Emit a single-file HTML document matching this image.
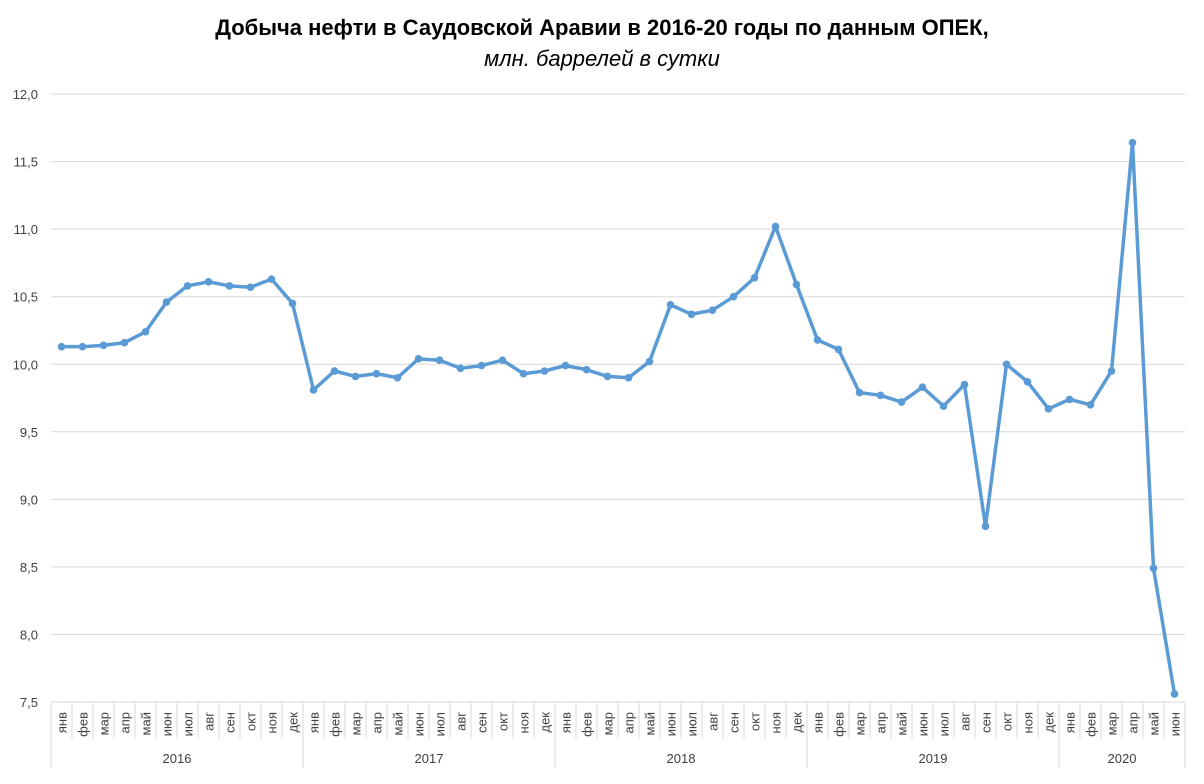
<!DOCTYPE html>
<html><head><meta charset="utf-8"><style>
body{margin:0;background:#fff;}
svg text{font-family:"Liberation Sans","DejaVu Sans",sans-serif;}
</style></head><body>
<svg width="1204" height="779" xmlns="http://www.w3.org/2000/svg">
<text x="602" y="35" text-anchor="middle" font-size="22" font-weight="bold" fill="#000">Добыча нефти в Саудовской Аравии в 2016-20 годы по данным ОПЕК,</text>
<text x="602" y="66" text-anchor="middle" font-size="22" font-style="italic" fill="#000">млн. баррелей в сутки</text>
<g id="grid" stroke="#d9d9d9" stroke-width="1"></g>
<g id="ylab" font-size="13" fill="#404040" text-anchor="end"></g>
<g id="xax" stroke="#d9d9d9" stroke-width="1"></g>
<g id="xlab" font-size="13" fill="#404040"></g>
<polyline id="line" fill="none" stroke="#5b9bd5" stroke-width="3.5" stroke-linejoin="round"/>
<g id="dots" fill="#5b9bd5"></g>
</svg>
<script>
const NS="http://www.w3.org/2000/svg";
function el(t,a,p,txt){const e=document.createElementNS(NS,t);for(const k in a)e.setAttribute(k,a[k]);if(txt!=null)e.textContent=txt;document.getElementById(p).appendChild(e);return e;}
const y0=702,ppu=135.1,x0=51,dx=21;
const Y=v=>y0-(v-7.5)*ppu;
for(let i=0;i<=9;i++){const v=7.5+i*0.5,y=Y(v);el('line',{x1:x0,x2:1185,y1:y,y2:y},'grid');el('text',{x:38,y:y+5},'ylab',v.toFixed(1).replace('.',','));}
const m=['янв','фев','мар','апр','май','июн','июл','авг','сен','окт','ноя','дек'];
for(let k=0;k<=54;k++){const x=x0+k*dx;el('line',{x1:x,x2:x,y1:y0,y2:(k%12==0||k==54)?768:739},'xax');}
for(let k=0;k<54;k++){const x=x0+k*dx+10.5;el('text',{x:0,y:0,transform:`translate(${x+5},${712}) rotate(-90)`,'text-anchor':'end'},'xlab',m[k%12]);}
const yrs=[2016,2017,2018,2019,2020];
yrs.forEach((yr,i)=>{const s=x0+i*12*dx,e=Math.min(x0+(i+1)*12*dx,1185);el('text',{x:(s+e)/2,y:763,'text-anchor':'middle'},'xlab',yr);});
const d=[10.13,10.13,10.14,10.16,10.24,10.46,10.58,10.61,10.58,10.57,10.63,10.45,
9.81,9.95,9.91,9.93,9.90,10.04,10.03,9.97,9.99,10.03,9.93,9.95,
9.99,9.96,9.91,9.90,10.02,10.44,10.37,10.40,10.50,10.64,11.02,10.59,
10.18,10.11,9.79,9.77,9.72,9.83,9.69,9.85,8.80,10.00,9.87,9.67,
9.74,9.70,9.95,11.64,8.49,7.56];
const pts=d.map((v,i)=>[x0+i*dx+10.5,Y(v)]);
document.getElementById('line').setAttribute('points',pts.map(p=>p.join(',')).join(' '));
pts.forEach(p=>el('circle',{cx:p[0],cy:p[1],r:3.8},'dots'));
</script>
</body></html>
